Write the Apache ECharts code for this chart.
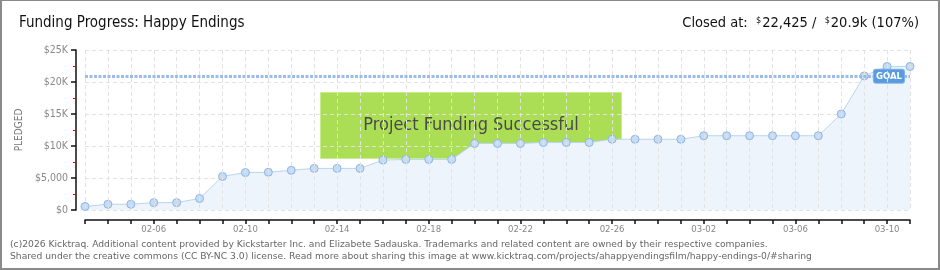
<!DOCTYPE html>
<html>
<head>
<meta charset="utf-8">
<script src="https://cdn.jsdelivr.net/npm/echarts@6/dist/echarts.min.js"></script>
<style>
html,body{margin:0;padding:0;background:#fff;}
#wrap{position:relative;width:940px;height:270px;}
#chart{position:absolute;left:0;top:0;width:940px;height:270px;}
#frame{position:absolute;left:0;top:0;width:940px;height:270px;box-sizing:border-box;border:2px solid #8a8a8a;border-top-width:1px;pointer-events:none;}
</style>
</head>
<body>
<div id="wrap"><div id="chart"></div><div id="frame"></div></div>
<script>
const dates = ['02-03','02-04','02-05','02-06','02-07','02-08','02-09','02-10','02-11','02-12','02-13','02-14','02-15','02-16','02-17','02-18','02-19','02-20','02-21','02-22','02-23','02-24','02-25','02-26','02-27','02-28','03-01','03-02','03-03','03-04','03-05','03-06','03-07','03-08','03-09','03-10','03-11'];
const pledged = [550,900,900,1150,1150,1800,5250,5850,5900,6200,6500,6500,6500,7800,7900,7900,7900,10400,10400,10400,10550,10550,10550,11050,11050,11050,11050,11600,11600,11600,11600,11600,11600,15000,20950,22425,22425];
const goal = 20900;
const yTicks = [0,5000,10000,15000,20000,25000];
const yTickLabels = ['$0','$5,000','$10K','$15K','$20K','$25K'];
const xLabelDates = ['02-06','02-10','02-14','02-18','02-22','02-26','03-02','03-06','03-10'];
const titleText = 'Funding Progress: Happy Endings';
const closedAmount = '22,425';
const goalText = '20.9k';
const percentText = '(107%)';
const footer1 = '(c)2026 Kicktraq. Additional content provided by Kickstarter Inc. and Elizabete Sadauska. Trademarks and related content are owned by their respective companies.';
const footer2 = 'Shared under the creative commons (CC BY-NC 3.0) license. Read more about sharing this image at www.kicktraq.com/projects/ahappyendingsfilm/happy-endings-0/#sharing';
const bannerText = 'Project Funding Successful';

const FONT = '"DejaVu Sans Condensed", "DejaVu Sans", sans-serif';
const chart = echarts.init(document.getElementById('chart'));
chart.setOption({
  animation:false,
  backgroundColor:'#fff',
  title:[
    {text:titleText,left:19,top:16,padding:0,textStyle:{fontFamily:FONT,fontSize:15,fontWeight:'normal',color:'#111'}},
    {text:'Closed at:  {s|$}' + closedAmount + ' /  {s|$}' + goalText + ' ' + percentText, right:21, top:16, padding:0,
     textStyle:{fontFamily:FONT,fontSize:14.5,fontWeight:'normal',color:'#111',
       rich:{s:{fontFamily:FONT,fontSize:9,color:'#111',verticalAlign:'top',padding:[0,1,6,0]}}}},
    {text:footer1+'\n'+footer2,left:10,top:238,padding:0,textStyle:{fontFamily:'"DejaVu Sans", Verdana, sans-serif',fontSize:9.2,fontWeight:'normal',color:'#666',lineHeight:12.5}}
  ],
  grid:{left:85,right:30,top:50,bottom:60},
  xAxis:{
    type:'category',data:dates,boundaryGap:false,offset:10,z:10,
    axisLine:{show:true,onZero:false,lineStyle:{color:'#111',width:1.5}},
    axisTick:{show:true,interval:0,length:4,lineStyle:{color:'#111',width:1.5}},
    axisLabel:{interval:function(i,v){return xLabelDates.indexOf(v)>=0;},color:'#888',fontFamily:FONT,fontSize:9.5,margin:5},
    splitLine:{show:true,interval:0,lineStyle:{color:'#e2e2e2',type:[4,3]}}
  },
  yAxis:{
    type:'value',min:0,max:25000,interval:5000,offset:9,
    name:'PLEDGED',nameLocation:'middle',nameGap:52,nameRotate:90,
    nameTextStyle:{color:'#777',fontFamily:FONT,fontSize:10,letterSpacing:3},
    axisLine:{show:true,onZero:false,lineStyle:{color:'#111',width:1.5}},
    axisTick:{show:true,length:5,lineStyle:{color:'#111',width:1.5}},
    minorTick:{show:true,splitNumber:2,length:3,lineStyle:{color:'#e00000'}},
    axisLabel:{color:'#888',fontFamily:FONT,fontSize:10.5,margin:8,
      formatter:function(v){const i=yTicks.indexOf(v);return i>=0?yTickLabels[i]:'';}},
    splitLine:{show:true,lineStyle:{color:'#e2e2e2',type:[4,3]}}
  },
  series:[{
    type:'line',data:pledged,
    symbol:'circle',symbolSize:8,
    lineStyle:{color:'#b9d5f2',width:1},
    itemStyle:{color:'#c4dcf6',borderColor:'#92b5dd',borderWidth:1},
    areaStyle:{color:'#edf4fc',opacity:1},
    markLine:{
      silent:true,symbol:'none',
      data:[{yAxis:goal}],
      lineStyle:{color:'#9bbce6',width:3,type:[3,1.5]},
      label:{show:true,position:'insideEnd',formatter:'GOAL',distance:6,
        backgroundColor:'#5a9be0',color:'#fff',fontFamily:FONT,fontSize:9.5,fontWeight:'bold',
        padding:[2,2,1,2],borderRadius:2,borderColor:'#7fb2ea',borderWidth:1}
    }
  }],
  graphic:[{
    type:'group',left:320,top:92,z:100,
    children:[
      {type:'rect',shape:{x:0,y:0,width:301,height:66},style:{fill:'rgba(163,218,66,0.9)',stroke:'rgba(200,235,140,0.9)',lineWidth:1}},
      {type:'text',x:150.5,y:33,style:{text:bannerText,fontFamily:FONT,fontSize:18,fill:'#4a4a4a',align:'center',verticalAlign:'middle',textShadowColor:'#fff',textShadowOffsetX:1,textShadowOffsetY:1,textShadowBlur:0}}
    ]
  }]
});
</script>
</body>
</html>
